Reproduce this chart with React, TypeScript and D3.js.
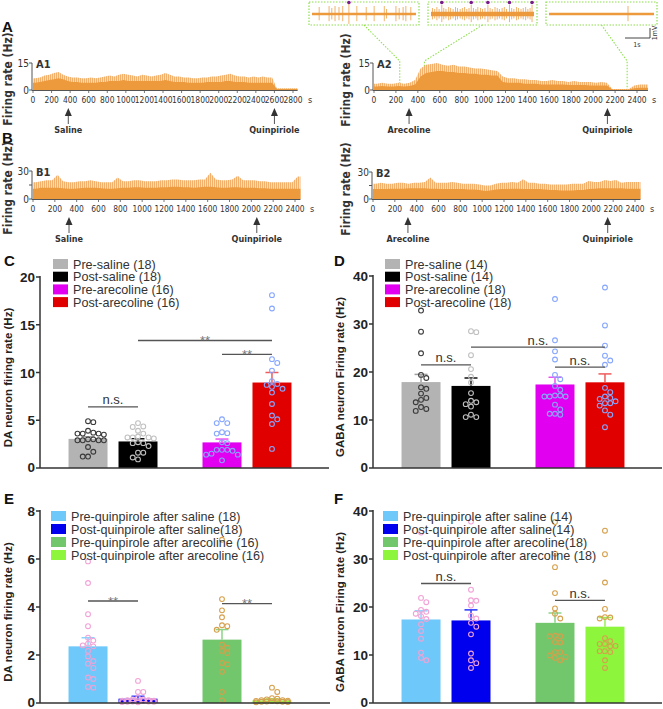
import React from 'react';
import * as d3 from 'd3';

const ARIAL = "'Liberation Sans', Arial, Helvetica, sans-serif";
const NARROW = "'Liberation Sans Narrow', 'Arial Narrow', 'DejaVu Sans Condensed', sans-serif";

// ---------------- firing-rate traces (Hz, 50 s bins) ----------------
const BIN_S = 50;
const A1_BASE = [4,4.5,5,5.5, 6,6.5,6, 5,4.5,4.5,4,4,4,4,4.5,4.5, 5,5,5,5.5,5,5,5,5,5,5,5,5,5.5,5, 4.5,4.5,4.5,4,4,4,4,4.5,4.5,4.5,4.5, 5,5,4.5,4.5,4.5, 4,4,4,4,4,4, 0.6,0.6,0.6,0.6,0.6];
const A1_PEAK = [6.5,7,8,8.5, 9.5,10,8.5, 7.5,7,7,6.5,6.5,7,6.5,7,7.5, 8,7.5,8.5,9,8.5,8,7.5,8.5,8,7.5,8,8.5,9.5,8.5, 7.5,7.5,7,7,6.5,6.5,7,7,7.5,7.5,8, 8.5,9,8,7.5,7.5, 7,7.5,7,7.5,7,7, 1,1,1,1,1];
const A2_BASE = [2,2.2,2,2,2.2,2,2.2, 3, 7.5, 9.5, 10,10.5,10.5,10,10,9.5,9.5, 9,9,8.5, 8.5,8,8, 4.5, 4,4,4,3.5,3.5,3.5, 3,3,3,3,3,2.8,2.8,2.8,2.8,2.5,2.5,2.5,2.5, 0.3,0.3,0.3,0.3, 1,1.2,1.2];
const A2_PEAK = [3.5,4,3.5,3.5,4,3.5,4, 5.5, 12, 14, 14.5,15,14,13.5,14,13,13, 12.5,12,12, 11.5,11,10.5, 7.5, 6.5,6.5,6,6,5.5,5.5, 5,5,5.5,5,5,4.5,5,4.5,4.5,4.5,4,4.5,4, 0.5,0.5,0.5,0.5, 2.5,3,3];
const B1_BASE = [11,12,12,12,12,11.5,11,11,11.5,12,12,12,11.5,11,11,11.5,12,12,12.5,12.5,12,12,12,12.5,12.5,13,13,12.5,12.5,12,12.5,13,13,12.5,12,12,12.5,12.5,12,12,12,11.5,11.5,11,11,11,11,11,11];
const B1_PEAK = [18,19,20,20,26,19,18,18,19,19,20,19,18,18,18,23,19,19,20,20,19,19,19,20,20,21,21,20,20,20,21,21,28,21,20,20,21,25,20,20,20,19,19,18,18,18,18,18,24];
const B2_BASE = [11,11,11,11.5,11.5,11.5,12,12,12,12,11.5,11.5,11,11,11,11,11,10.5,10.5,10,9,9.5,10.5,11,11,11.5,11.5,11,11,11,11,10.5,10,10,9.5,9.5,9.5,10,10,11,11.5,12,12,12,12,12,11.5,11.5,11.5];
const B2_PEAK = [17,18,17,17,18,18,17,18,18,19,24,18,18,18,19,18,17,17,17,16,15,15,17,18,18,19,18,22,18,18,17,17,16,16,16,16,17,17,17,20,19,19,21,20,21,18,19,19,19];

// ---------------- raw-trace insets (s, mV) ----------------
const INSET1_SPIKES = [0.29,0.69,0.8,0.93,1.09,1.24,1.49,1.81,2.19,2.51,2.92,3.01,3.39,3.52,3.68,3.79,3.99];
const INSET1_AMP = [0.7,0.8,0.6,0.8,0.7,0.8,1.1,0.8,0.7,0.8,0.8,0.5,0.8,0.6,0.7,0.8,0.7];
const INSET1_MARKED = [1.49];
const INSET2_SPIKES = [0.06,0.15,0.24,0.33,0.44,0.52,0.61,0.72,0.8,0.9,1.0,1.08,1.19,1.28,1.37,1.46,1.55,1.64,1.73,1.83,1.91,2.02,2.1,2.2,2.32,2.41,2.5,2.61,2.7,2.79,2.9,2.99,3.08,3.2,3.29,3.38,3.49,3.57,3.67,3.76,3.86,3.95,4.04,4.12];
const INSET2_AMP = [0.6,0.5,0.7,0.5,0.9,0.6,0.5,0.7,0.6,0.5,0.7,0.6,0.5,0.6,0.7,0.5,0.6,0.9,0.6,0.5,0.7,0.6,0.5,0.6,0.9,0.6,0.5,0.7,0.6,0.5,0.6,0.7,0.5,0.9,0.6,0.5,0.7,0.6,0.5,0.6,0.7,0.5,0.6,0.9];
const INSET2_MARKED = [0.44,1.64,2.32,3.2,4.12];
const INSET3_SPIKES = [3.16];
const INSET3_AMP = [0.8];
const INSET3_MARKED: number[] = [];
const INSET_TIMES = [235, 460, 2310]; // where each inset sits on the A2 trace (s)

// ---------------- bar panels ----------------
const C_LABELS = ['Pre-saline (18)', 'Post-saline (18)', 'Pre-arecoline (16)', 'Post-arecoline (16)'];
const C_MEANS = [3.05, 2.78, 2.68, 8.95];
const C_SEM = [0.22, 0.28, 0.35, 1.05];
const C_DOTS = [
  [4.8,4.9,3.6,3.6,3.9,3.7,3.6,3.5,3.0,2.9,2.9,2.9,2.9,3.0,1.7,2.2,1.2,1.2],
  [4.7,4.35,4.3,3.9,3.6,3.3,3.2,3.2,3.1,3.2,2.6,2.6,2.7,2.3,1.6,1.6,0.9,1.1],
  [4.7,4.7,5.1,3.75,3.65,3.6,2.7,2.6,1.9,1.9,1.9,1.5,1.4,1.4,1.8,0.8],
  [18.1,16.7,11.4,11.0,10.2,9.1,8.8,8.5,8.7,8.3,7.9,6.7,5.5,5.1,4.6,2.0],
];
const D_LABELS = ['Pre-saline (14)', 'Post-saline (14)', 'Pre-arecoline (18)', 'Post-arecoline (18)'];
const D_MEANS = [17.9, 17.1, 17.4, 17.85];
const D_SEM = [1.6, 1.65, 1.5, 1.75];
const D_DOTS = [
  [32.8,28.4,23.9,19.4,18.75,16.8,16.5,15.5,14.6,14.2,13.7,12.7,12.3,11.9],
  [28.3,28.5,23.5,20.6,19.0,17.8,15.6,14.0,13.3,13.7,12.8,11.1,10.6,10.6],
  [35.2,26.6,24.3,22.6,19.4,18.5,17.1,16.3,15.1,14.9,14.9,14.9,15.1,13.2,11.3,11.1,11.3,12.2],
  [37.6,29.7,25.5,23.4,22.4,21.5,16.7,15.8,14.6,14.4,14.9,13.5,13.0,13.5,13.9,12.0,11.1,8.5],
];
const E_LABELS = ['Pre-quinpirole after saline (18)', 'Post-quinpirole after saline(18)', 'Pre-quinpirole after arecoline (16)', 'Post-quinpirole after arecoline (16)'];
const E_MEANS = [2.36, 0.18, 2.64, 0.11];
const E_SEM = [0.36, 0.1, 0.42, 0.06];
const E_DOTS = [
  [5.9,5.0,3.7,3.2,2.72,2.6,2.47,2.4,2.36,2.17,1.94,1.75,1.64,1.46,1.06,1.0,0.64,0.67],
  [0.92,0.46,0.46,0.2,0.15,0.12,0.1,0.08,0.06,0.05,0.05,0.04,0.1,0.15,0.08,0.06,0.03,0.12],
  [6.8,4.33,3.86,3.57,3.24,3.2,3.05,2.43,2.3,2.17,2.08,1.67,1.61,1.3,0.46,0.11],
  [0.64,0.46,0.18,0.15,0.12,0.1,0.08,0.06,0.05,0.04,0.03,0.05,0.07,0.09,0.12,0.2],
];
const F_LABELS = ['Pre-quinpirole after saline (14)', 'Post-quinpirole after saline(14)', 'Pre-quinpirole after arecoline(18)', 'Post-quinpirole after arecoline (18)'];
const F_MEANS = [17.4, 17.2, 16.7, 15.9];
const F_SEM = [1.8, 2.2, 2.05, 1.9];
const F_DOTS = [
  [35.5,21.9,21.0,19.4,19.0,18.6,18.1,17.5,16.4,15.0,13.4,10.5,9.4,8.9],
  [37.8,23.6,21.4,21.3,20.3,18.2,17.6,16.7,15.9,14.3,10.3,8.9,8.3,7.3],
  [37.7,31.1,28.3,22.9,19.7,18.6,17.6,13.9,13.9,14.0,12.6,12.7,10.6,10.6,9.9,9.6,9.4,8.9],
  [35.9,31.0,25.1,19.6,17.8,17.9,17.6,12.9,13.5,12.3,12.3,10.8,10.8,10.6,8.9,7.3,11.9,11.8],
];
// significance brackets: [fromBar, toBar, value, text]
const C_SIG: [number, number, number, string][] = [[0,1,6.4,'n.s.'],[1,3,13.35,'**'],[2,3,11.9,'**']];
const D_SIG: [number, number, number, string][] = [[0,1,21.5,'n.s.'],[1,3,25.2,'n.s.'],[2,3,21.0,'n.s.']];
const E_SIG: [number, number, number, string][] = [[0,1,4.25,'**'],[2,3,4.14,'**']];
const F_SIG: [number, number, number, string][] = [[0,1,24.9,'n.s.'],[2,3,21.4,'n.s.']];

const BAR_COLORS_1 = ['#b3b3b3', '#000000', '#e100ef', '#e00000'];
const ERR_COLORS_1 = ['#a0a0a0', '#111111', '#f050f0', '#f05a5a'];
const DOT_COLORS_1 = ['#3a3a3a', '#c0c0c0', '#86a6ff', '#86a6ff'];
const BAR_COLORS_2 = ['#6ec8fa', '#0000ee', '#72c66c', '#8cf53c'];
const ERR_COLORS_2 = ['#86d4ff', '#2233ff', '#8cd488', '#98f058'];
const DOT_COLORS_2 = ['#f2a2d6', '#f2a2d6', '#d6a04c', '#d6a04c'];

const ORANGE = '#ec9a3c';
const GREEN_DOT = '#8ee04c';

function swarm(values: number[], y: (v: number) => number, r: number, maxOff: number) {
  const placed: { x: number; y: number }[] = [];
  const order = values.map((_, i) => i).sort((a, b) => values[b] - values[a]);
  const out: number[] = new Array(values.length).fill(0);
  const step = r * 2.2;
  const minD = r * 2.1;
  for (const i of order) {
    const py = y(values[i]);
    const cands = [0];
    for (let k = 1; k * step <= maxOff; k++) cands.push(k * step, -k * step);
    let best = 0, bestScore = -Infinity;
    for (const c of cands) {
      let md = Infinity;
      for (const p of placed) md = Math.min(md, Math.hypot(p.x - c, p.y - py));
      if (md >= minD) { best = c; break; }
      if (md > bestScore) { bestScore = md; best = c; }
    }
    placed.push({ x: best, y: py });
    out[i] = best;
  }
  return out;
}

type Arrow = { t: number; label: string };
function Trace(props: {
  x0: number; xTickEnd: number; xMax: number; axisY: number; yTop: number; yMax: number;
  yTicks: number[]; yLabels: number[]; base: number[]; peak: number[]; name: string;
  arrows: Arrow[]; yTitleX: number; yTitleY: number;
}) {
  const { x0, xTickEnd, xMax, axisY, yTop, yMax, yTicks, yLabels, base, peak, name, arrows, yTitleX, yTitleY } = props;
  const x = d3.scaleLinear().domain([0, xMax]).range([x0, xTickEnd]);
  const y = d3.scaleLinear().domain([0, yMax]).range([axisY, yTop]);
  const n = base.length;
  const pts = (arr: number[]) => [[0, arr[0]], ...arr.map((v, i) => [i * BIN_S + BIN_S / 2, v]), [n * BIN_S, arr[n - 1]]] as [number, number][];
  const area = d3.area<[number, number]>().x(d => x(d[0])).y0(axisY).y1(d => y(d[1])).curve(d3.curveLinear);
  const dataEnd = x(n * BIN_S);
  const ticks = d3.range(0, xMax + 1, 200);
  return (
    <g>
      <path d={area(pts(peak)) || ''} fill="url(#spikeFill)" />
      <path d={area(pts(base)) || ''} fill={ORANGE} />
      <line x1={x0 - 1} x2={Math.max(dataEnd, xTickEnd)} y1={axisY + 0.5} y2={axisY + 0.5} stroke="#555" strokeWidth={1} />
      <line x1={x0 - 1} x2={x0 - 1} y1={yTop} y2={axisY + 0.5} stroke="#555" strokeWidth={1} />
      {yTicks.map(t => <line key={t} x1={x0 - 4} x2={x0 - 1} y1={y(t)} y2={y(t)} stroke="#555" strokeWidth={1} />)}
      {yLabels.map(t => <text key={t} x={x0 - 4} y={y(t) + 3.5} fontSize={10} fontFamily={NARROW} textAnchor="end" fill="#333">{t}</text>)}
      <text x={x0 + 3} y={yTop + 5} fontSize={11} fontWeight="bold" fontFamily={NARROW} fill="#333">{name}</text>
      {ticks.map(t => (
        <g key={t}>
          <line x1={x(t)} x2={x(t)} y1={axisY + 0.5} y2={axisY + 3} stroke="#555" strokeWidth={0.8} />
          <text x={x(t)} y={axisY + 13} fontSize={8.4} fontFamily={NARROW} textAnchor="middle" fill="#333">{t}</text>
        </g>
      ))}
      <text x={xTickEnd + 17} y={axisY + 13} fontSize={9} fontFamily={NARROW} textAnchor="middle" fill="#333">s</text>
      {arrows.map(a => {
        const ax = x(a.t);
        return (
          <g key={a.label}>
            <line x1={ax} x2={ax} y1={axisY + 22} y2={axisY + 34} stroke="#555" strokeWidth={1} />
            <path d={`M${ax},${axisY + 18} L${ax - 3.5},${axisY + 26} L${ax + 3.5},${axisY + 26} Z`} fill="#333" />
            <text x={ax} y={axisY + 43} fontSize={9} fontWeight="bold" fontFamily={NARROW} textAnchor="middle" fill="#333">{a.label}</text>
          </g>
        );
      })}
      <text transform={`translate(${yTitleX},${yTitleY}) rotate(-90)`} fontSize={12} fontWeight="bold" fontFamily={NARROW} textAnchor="middle" fill="#333">Firing rate (Hz)</text>
    </g>
  );
}

function Inset(props: { bx: number; by: number; bw: number; bh: number; spikes: number[]; amps: number[]; marked: number[]; dense: boolean }) {
  const { bx, by, bw, bh, spikes, amps, marked, dense } = props;
  const x = d3.scaleLinear().domain([0, 4.2]).range([bx + 3, bx + bw - 3]);
  const y = d3.scaleLinear().domain([-1, 1]).range([by + 22, by + 2]);
  return (
    <g>
      <rect x={bx} y={by} width={bw} height={bh} fill="none" stroke={GREEN_DOT} strokeWidth={1.2} strokeDasharray="1.5,1.5" />
      <line x1={x(0)} x2={x(4.2)} y1={y(0)} y2={y(0)} stroke={ORANGE} strokeWidth={dense ? 4.5 : 2.5} />
      {spikes.map((t, i) => (
        <line key={i} x1={x(t)} x2={x(t)} y1={y(-amps[i] * 0.9)} y2={y(amps[i])} stroke={ORANGE} strokeOpacity={0.75} strokeWidth={1} />
      ))}
      {marked.map((t, i) => <circle key={i} cx={x(t)} cy={y(1.15)} r={1.8} fill="#7a1a8c" />)}
    </g>
  );
}

function BarPanel(props: {
  letter: string; letterX: number; letterY: number; axisX: number; axisEnd: number; y0: number; yTop: number;
  yMax: number; yTicks: number[]; yTitle: string; yTitleX: number; means: number[]; sems: number[]; dots: number[][];
  barColors: string[]; errColors: string[]; dotColors: string[]; labels: string[]; legendX: number; legendY: number;
  legendStep: number; sig: [number, number, number, string][];
}) {
  const p = props;
  const y = d3.scaleLinear().domain([0, p.yMax]).range([p.y0, p.yTop]);
  const outer = d3.scaleBand<string>().domain(['saline', 'arecoline']).range([p.axisX, p.axisX + 280]).paddingInner(0.336).paddingOuter(0.213);
  const inner = d3.scaleBand<string>().domain(['pre', 'post']).range([0, outer.bandwidth()]).paddingInner(0.22).paddingOuter(0);
  const keys: [string, string][] = [['saline', 'pre'], ['saline', 'post'], ['arecoline', 'pre'], ['arecoline', 'post']];
  const bx = keys.map(([g, s]) => (outer(g) || 0) + (inner(s) || 0));
  const bw = inner.bandwidth();
  const cx = bx.map(v => v + bw / 2);
  const titleY = (p.y0 + p.yTop) / 2 + 5;
  return (
    <g>
      <text x={p.letterX} y={p.letterY} fontSize={15} fontWeight="bold" fill="#111">{p.letter}</text>
      {p.means.map((m, i) => (
        <rect key={i} x={bx[i]} y={y(m)} width={bw} height={p.y0 - y(m)} fill={p.barColors[i]} />
      ))}
      {p.means.map((m, i) => (
        <g key={i} stroke={p.errColors[i]} strokeWidth={1.5}>
          <line x1={cx[i]} x2={cx[i]} y1={y(m)} y2={y(m + p.sems[i])} />
          <line x1={cx[i] - 6.5} x2={cx[i] + 6.5} y1={y(m + p.sems[i])} y2={y(m + p.sems[i])} />
        </g>
      ))}
      {p.dots.map((vals, i) => {
        const offs = swarm(vals, y, 2.4, 17);
        return vals.map((v, j) => (
          <circle key={`${i}-${j}`} cx={cx[i] + offs[j]} cy={y(v)} r={2.4} fill="none" stroke={p.dotColors[i]} strokeWidth={1.1} />
        ));
      })}
      <line x1={p.axisX} x2={p.axisX} y1={p.yTop - 1} y2={p.y0} stroke="#333" strokeWidth={1.5} />
      <line x1={p.axisX} x2={p.axisEnd} y1={p.y0} y2={p.y0} stroke="#333" strokeWidth={1.5} />
      {p.yTicks.map(t => (
        <g key={t}>
          <line x1={p.axisX - 4} x2={p.axisX} y1={y(t)} y2={y(t)} stroke="#333" strokeWidth={1.5} />
          <text x={p.axisX - 5} y={y(t) + (t === 0 ? 4 : 5)} fontSize={13.5} fontWeight="bold" textAnchor="end" fill="#222">{t}</text>
        </g>
      ))}
      <text transform={`translate(${p.yTitleX},${titleY}) rotate(-90)`} fontSize={11.5} fontWeight="bold" textAnchor="middle" fill="#222">{p.yTitle}</text>
      {p.sig.map(([a, b, v, txt], i) => {
        const ly = y(v);
        return (
          <g key={i}>
            <line x1={cx[a]} x2={cx[b]} y1={ly} y2={ly} stroke="#555" strokeWidth={1.3} />
            <text x={(cx[a] + cx[b]) / 2} y={txt === '**' ? ly + 4.5 : ly - 2.5} fontSize={13} textAnchor="middle" fill={txt === '**' ? '#777' : '#333'}>{txt}</text>
          </g>
        );
      })}
      {p.labels.map((l, i) => (
        <g key={l}>
          <rect x={p.legendX} y={p.legendY + i * p.legendStep - 5} width={15} height={10} fill={p.barColors[i]} />
          <text x={p.legendX + 20} y={p.legendY + i * p.legendStep + 4.5} fontSize={12.6} fill="#333">{l}</text>
        </g>
      ))}
    </g>
  );
}

export default function App() {
  const a2x = d3.scaleLinear().domain([0, 2400]).range([374, 637]);
  const insetBoxes = [
    { bx: 309, spikes: INSET1_SPIKES, amps: INSET1_AMP, marked: INSET1_MARKED, dense: false, bw: 110 },
    { bx: 428, spikes: INSET2_SPIKES, amps: INSET2_AMP, marked: INSET2_MARKED, dense: true, bw: 109 },
    { bx: 546, spikes: INSET3_SPIKES, amps: INSET3_AMP, marked: INSET3_MARKED, dense: false, bw: 111 },
  ];
  return (
    <svg width={663} height={709} style={{ position: 'absolute', left: 0, top: 0, background: '#fff' }} fontFamily={ARIAL}>
      <defs>
        <pattern id="spikeFill" patternUnits="userSpaceOnUse" width={2} height={4}>
          <rect x={0} y={0} width={2} height={4} fill="#fae3c6" />
          <rect x={0} y={0} width={1.1} height={4} fill="#f2b06a" />
        </pattern>
      </defs>
      <rect x={0} y={0} width={663} height={709} fill="#fff" />
      {/* panel letters A, B */}
      <text x={2} y={32} fontSize={15} fontWeight="bold" fill="#111">A</text>
      <text x={2} y={143} fontSize={15} fontWeight="bold" fill="#111">B</text>

      {/* insets */}
      {insetBoxes.map((b, i) => (
        <Inset key={i} bx={b.bx} by={2} bw={b.bw} bh={23} spikes={b.spikes} amps={b.amps} marked={b.marked} dense={b.dense} />
      ))}
      {insetBoxes.map((b, i) => {
        const tx = a2x(INSET_TIMES[i]);
        return (
          <path key={i} d={`M${b.bx + b.bw / 2},25 L${tx},61 L${tx},91`} fill="none" stroke={GREEN_DOT} strokeWidth={1.1} strokeDasharray="1.5,1.5" />
        );
      })}
      {/* scale bar */}
      <path d="M625,38 L650,38 L650,28" fill="none" stroke="#444" strokeWidth={1} />
      <text x={637} y={47} fontSize={7} fontFamily={NARROW} textAnchor="middle" fill="#333">1s</text>
      <text transform="translate(657,33) rotate(-90)" fontSize={7} fontFamily={NARROW} textAnchor="middle" fill="#333">1mV</text>

      <Trace x0={33} xTickEnd={293} xMax={2800} axisY={90} yTop={63} yMax={15} yTicks={[0, 15]} yLabels={[0, 15]}
        base={A1_BASE} peak={A1_PEAK} name="A1" arrows={[{ t: 380, label: 'Saline' }, { t: 2600, label: 'Quinpiriole' }]}
        yTitleX={12} yTitleY={79} />
      <Trace x0={374} xTickEnd={637} xMax={2400} axisY={90} yTop={63} yMax={15} yTicks={[0, 15]} yLabels={[0, 15]}
        base={A2_BASE} peak={A2_PEAK} name="A2" arrows={[{ t: 320, label: 'Arecoline' }, { t: 2130, label: 'Quinpiriole' }]}
        yTitleX={350} yTitleY={80} />
      <Trace x0={33} xTickEnd={295} xMax={2400} axisY={199} yTop={171} yMax={30} yTicks={[0, 15, 30]} yLabels={[0, 30]}
        base={B1_BASE} peak={B1_PEAK} name="B1" arrows={[{ t: 330, label: 'Saline' }, { t: 2050, label: 'Quinpiriole' }]}
        yTitleX={12} yTitleY={188} />
      <Trace x0={373} xTickEnd={635} xMax={2400} axisY={199} yTop={172} yMax={30} yTicks={[0, 15, 30]} yLabels={[0, 30]}
        base={B2_BASE} peak={B2_PEAK} name="B2" arrows={[{ t: 320, label: 'Arecoline' }, { t: 2150, label: 'Quinpiriole' }]}
        yTitleX={350} yTitleY={189} />

      <BarPanel letter="C" letterX={4} letterY={266} axisX={40} axisEnd={329} y0={468} yTop={277} yMax={20} yTicks={[0, 5, 10, 15, 20]}
        yTitle="DA neuron firing rate (Hz)" yTitleX={12} means={C_MEANS} sems={C_SEM} dots={C_DOTS}
        barColors={BAR_COLORS_1} errColors={ERR_COLORS_1} dotColors={DOT_COLORS_1} labels={C_LABELS}
        legendX={53} legendY={264} legendStep={12.7} sig={C_SIG} />
      <BarPanel letter="D" letterX={334} letterY={266} axisX={373} axisEnd={662} y0={468} yTop={276} yMax={40} yTicks={[0, 10, 20, 30, 40]}
        yTitle="GABA neuron Firing rate (Hz)" yTitleX={344} means={D_MEANS} sems={D_SEM} dots={D_DOTS}
        barColors={BAR_COLORS_1} errColors={ERR_COLORS_1} dotColors={DOT_COLORS_1} labels={D_LABELS}
        legendX={385} legendY={264} legendStep={12.7} sig={D_SIG} />
      <BarPanel letter="E" letterX={4} letterY={504} axisX={40} axisEnd={330} y0={703} yTop={511} yMax={8} yTicks={[0, 2, 4, 6, 8]}
        yTitle="DA neuron firing rate (Hz)" yTitleX={12} means={E_MEANS} sems={E_SEM} dots={E_DOTS}
        barColors={BAR_COLORS_2} errColors={ERR_COLORS_2} dotColors={DOT_COLORS_2} labels={E_LABELS}
        legendX={51} legendY={516} legendStep={13} sig={E_SIG} />
      <BarPanel letter="F" letterX={334} letterY={504} axisX={373} axisEnd={662} y0={703} yTop={511} yMax={40} yTicks={[0, 10, 20, 30, 40]}
        yTitle="GABA neuron Firing rate (Hz)" yTitleX={344} means={F_MEANS} sems={F_SEM} dots={F_DOTS}
        barColors={BAR_COLORS_2} errColors={ERR_COLORS_2} dotColors={DOT_COLORS_2} labels={F_LABELS}
        legendX={383} legendY={516} legendStep={13} sig={F_SIG} />
    </svg>
  );
}
